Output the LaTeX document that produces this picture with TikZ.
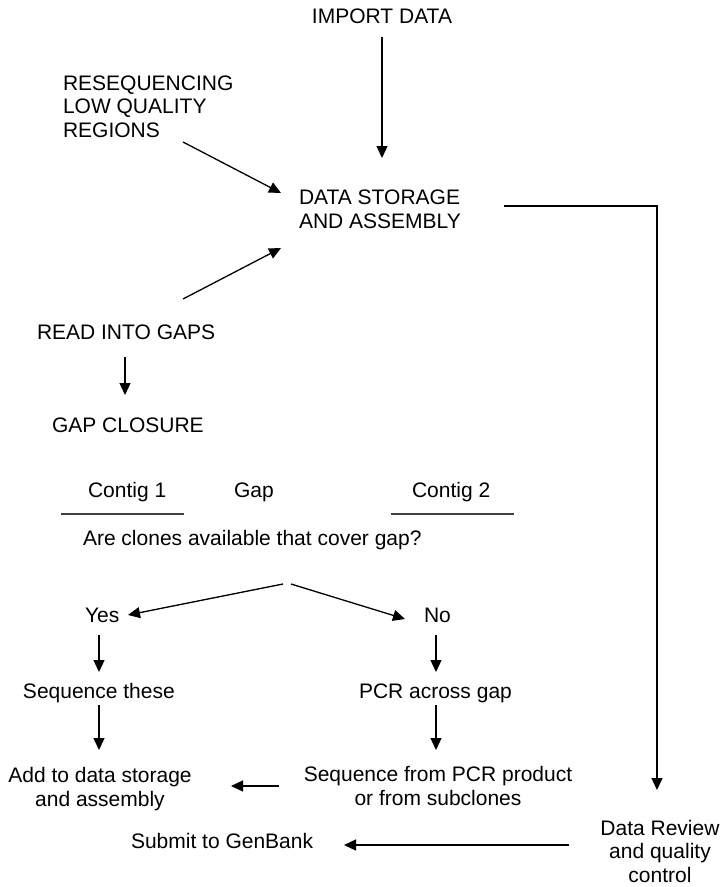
\documentclass[tikz,border=0pt]{standalone}
\usepackage{fontspec}
\setmainfont{Liberation Sans}
\usetikzlibrary{arrows.meta}
\begin{document}
\begin{tikzpicture}[x=1pt,y=-1pt,
  lbl/.style={inner sep=0pt, outer sep=0pt, font=\fontsize{21}{23.5}\selectfont, align=left, anchor=base west},
  lblc/.style={inner sep=0pt, outer sep=0pt, font=\fontsize{21}{23.5}\selectfont, align=center, anchor=base},
  arr/.style={line width=1.3pt, -{Triangle[length=12pt,width=11pt]}},
  contigline/.style={line width=1.5pt, draw=black!75}]
\useasboundingbox (0,0) rectangle (720,887);

% nodes (multi-line nodes are placed by the baseline of their last line)
\node[lblc] (import) at (382,23) {IMPORT DATA};
\node[lbl] (reseq) at (63,137) {RESEQUENCING\\LOW QUALITY\\REGIONS};
\node[lbl] (store) at (299,228) {DATA STORAGE\\AND ASSEMBLY};
\node[lbl] (read) at (37,339) {READ INTO GAPS};
\node[lbl] (gapclos) at (52,432) {GAP CLOSURE};
\node[lbl] (contig1) at (88,497) {Contig 1};
\node[lbl] (gap) at (234,497) {Gap};
\node[lbl] (contig2) at (412,497) {Contig 2};
\node[lbl] (question) at (83,545) {Are clones available that cover gap?};
\node[lbl] (yes) at (85,622) {Yes};
\node[lbl] (no) at (424,622) {No};
\node[lbl] (seqthese) at (23,698) {Sequence these};
\node[lbl] (pcr) at (359,698) {PCR across gap};
\node[lblc] (add) at (100,806) {Add to data storage\\and assembly};
\node[lblc] (seqpcr) at (438,805) {Sequence from PCR product\\or from subclones};
\node[lblc] (review) at (660,882) {Data Review\\and quality\\control};
\node[lbl] (submit) at (131,848) {Submit to GenBank};

% connector end points
\coordinate (impS) at (382,37);
\coordinate (storeT) at (382,158);
\coordinate (reseqE) at (183,142);
\coordinate (storeNW) at (281,193);
\coordinate (readE) at (183,299);
\coordinate (storeSW) at (281,248);
\coordinate (storeE) at (504,206);
\coordinate (corner) at (657,206);
\coordinate (reviewN) at (657,790);
\coordinate (readS) at (125,357);
\coordinate (gapclosN) at (125,395);
\coordinate (splitL) at (283,584);
\coordinate (splitR) at (291,584);
\coordinate (yesE) at (128,615);
\coordinate (noW) at (405,619);
\coordinate (yesS) at (99,635);
\coordinate (seqtheseN) at (99,672);
\coordinate (seqtheseS) at (99,705);
\coordinate (addN) at (99,750);
\coordinate (noS) at (436,635);
\coordinate (pcrN) at (436,672);
\coordinate (pcrS) at (436,705);
\coordinate (seqpcrN) at (436,750);
\coordinate (seqpcrW) at (279,786);
\coordinate (addE) at (231,786);
\coordinate (reviewW) at (569,845);
\coordinate (submitE) at (344,845);

% contig lines
\draw[contigline] (61,514) -- (184,514);
\draw[contigline] (391,514) -- (514,514);

% connectors
\draw[arr] (impS) -- (storeT);
\draw[arr] (reseqE) -- (storeNW);
\draw[arr] (readE) -- (storeSW);
\draw[arr] (storeE) -- (corner) -- (reviewN);
\draw[arr] (readS) -- (gapclosN);
\draw[arr] (splitL) -- (yesE);
\draw[arr] (splitR) -- (noW);
\draw[arr] (yesS) -- (seqtheseN);
\draw[arr] (seqtheseS) -- (addN);
\draw[arr] (noS) -- (pcrN);
\draw[arr] (pcrS) -- (seqpcrN);
\draw[arr] (seqpcrW) -- (addE);
\draw[arr] (reviewW) -- (submitE);
\end{tikzpicture}
\end{document}
